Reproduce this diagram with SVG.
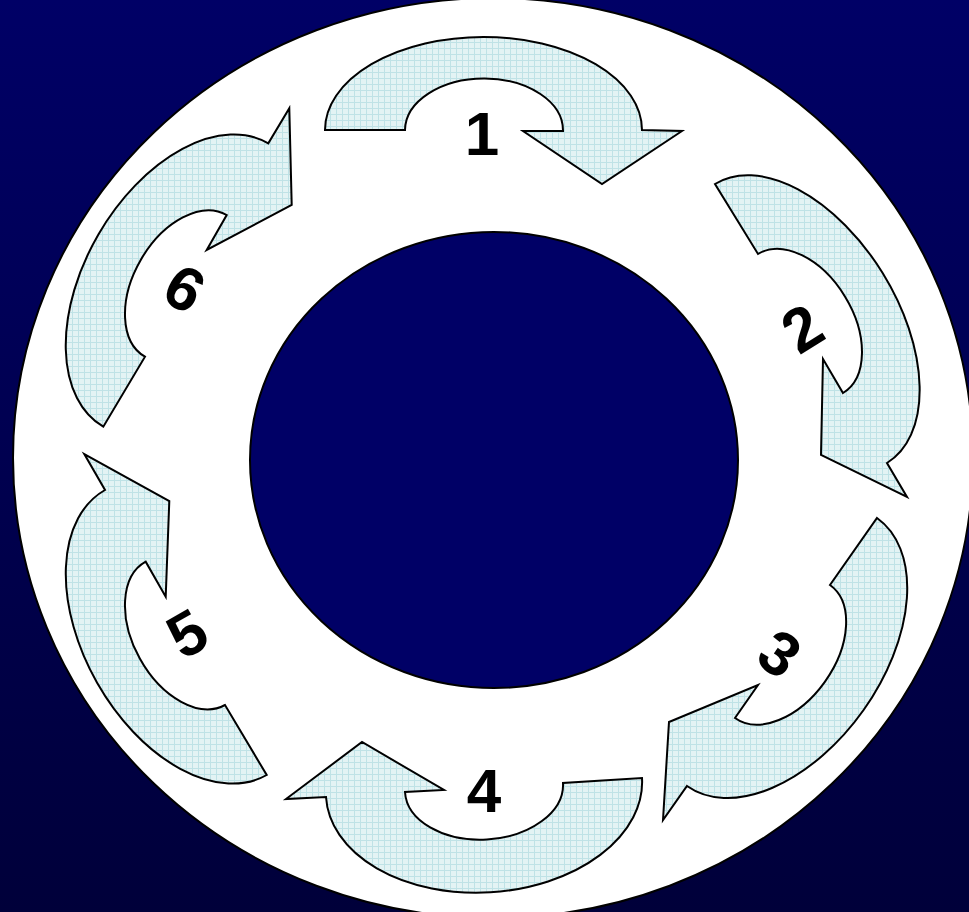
<svg xmlns="http://www.w3.org/2000/svg" width="969" height="912" viewBox="0 0 969 912">
<defs>
<linearGradient id="bg" x1="0" y1="0" x2="0" y2="1">
<stop offset="0" stop-color="#000066"/>
<stop offset="1" stop-color="#00003a"/>
</linearGradient>
<pattern id="grid" width="6" height="6" patternUnits="userSpaceOnUse">
<rect width="6" height="6" fill="#e3f3f4"/>
<path d="M0 0.5H6M0.5 0V6" stroke="#bfe2e6" stroke-width="1"/>
</pattern>
<style>
.arrow{fill:url(#grid);stroke:#000;stroke-width:2;stroke-linejoin:miter}
.lbl{font-family:"Liberation Sans",Arial,sans-serif;font-weight:bold;font-size:62px;fill:#000;text-anchor:middle}
</style>
</defs>
<rect width="969" height="912" fill="url(#bg)"/>
<g id="ring">
<ellipse cx="493" cy="458" rx="480" ry="460" fill="#fff" stroke="#000" stroke-width="2"/>
<ellipse cx="494" cy="460" rx="244" ry="228" fill="#000066" stroke="#000" stroke-width="2"/>
</g>
<g id="connectors"></g>
<g id="arrow1">
<path class="arrow" d="M325 130A158.4 93 0 0 1 642 130L682 131L602 184L523 131L563 131A78.9 52 0 0 0 405 130Z"/>
<text class="lbl" x="482" y="155">1</text>
</g>
<g id="arrow2">
<path class="arrow" d="M715 184A163.8 96 58.3 0 1 887 463L907 497L821 455L823 359L843 393A81.4 52 58.5 0 0 758 254Z"/>
<text class="lbl" transform="translate(802 328) rotate(-32)" x="0" y="22">2</text>
</g>
<g id="arrow3">
<path class="arrow" d="M877 518A164.1 100 125.3 0 1 687 786L663 820L669 722L758 685L735 718A81.6 52 125.5 0 0 830 585Z"/>
<text class="lbl" transform="translate(780 653) rotate(35)" x="0" y="22">3</text>
</g>
<g id="arrow4">
<path class="arrow" d="M642 778A158.2 105 176.6 0 1 326 797L286 799L362 742L444 790L405 792A79 52 176.7 0 0 563 783Z"/>
<text class="lbl" x="484" y="812">4</text>
</g>
<g id="arrow5">
<path class="arrow" d="M266.7 775A163.8 102 240.4 0 1 105 490L84.3 454L169.3 501L165.7 596.7L145.7 561.7A81.8 52 241 0 0 225 705Z"/>
<text class="lbl" transform="translate(187 633) rotate(-30)" x="0" y="22">5</text>
</g>
<g id="arrow6">
<path class="arrow" d="M103.3 426.7A163.9 101 300.2 0 1 268.3 143.3L289.3 108.3L291.7 205L206.7 250L226.7 215A81.7 52 300 0 0 145 356.7Z"/>
<text class="lbl" transform="translate(185 288) rotate(30)" x="0" y="22">6</text>
</g>
</svg>
